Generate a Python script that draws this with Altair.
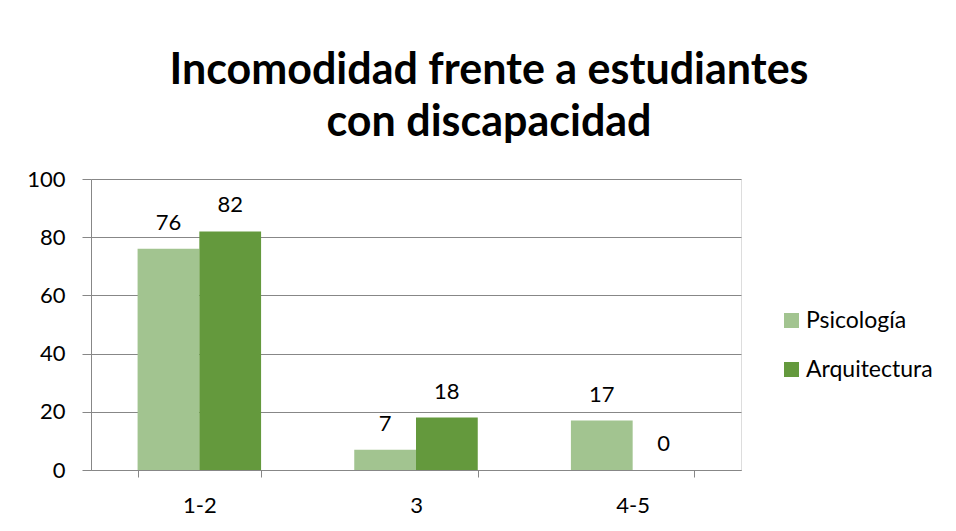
import altair as alt
import pandas as pd

categorias = ["1-2", "3", "4-5"]
series = ["Psicología", "Arquitectura"]
psicologia = [76, 7, 17]
arquitectura = [82, 18, 0]
colores = ["#A2C490", "#64993D"]
titulo = ["Incomodidad frente a estudiantes", "con discapacidad"]

rows = []
for i, c in enumerate(categorias):
    rows.append({"cat": c, "serie": series[0], "valor": psicologia[i]})
    rows.append({"cat": c, "serie": series[1], "valor": arquitectura[i]})
df = pd.DataFrame(rows)

FONT = "Lato"
GRAY = "#878787"

x = alt.X(
    "cat:N", sort=categorias, title=None,
    scale=alt.Scale(paddingInner=0.43, paddingOuter=0.215),
    axis=alt.Axis(labelAngle=0, tickBand="extent", tickSize=7, labelPadding=18,
                  labelFontSize=22, labelFont=FONT, labelColor="black",
                  domainColor=GRAY, tickColor=GRAY, grid=False),
)
xo = alt.XOffset("serie:N", sort=series, scale=alt.Scale(paddingInner=0, paddingOuter=0))
y = alt.Y(
    "valor:Q", title=None, scale=alt.Scale(domain=[0, 100]),
    axis=alt.Axis(values=[0, 20, 40, 60, 80, 100], grid=True, gridColor=GRAY,
                  tickSize=9, labelPadding=17, labelFontSize=22, labelFont=FONT,
                  labelColor="black", domainColor=GRAY, tickColor=GRAY),
)
color = alt.Color(
    "serie:N", sort=series, title=None,
    scale=alt.Scale(domain=series, range=colores),
    legend=alt.Legend(orient="none", legendX=689, legendY=130, symbolType="square",
                      symbolSize=225, symbolStrokeWidth=0, labelFontSize=23,
                      labelFont=FONT, labelColor="black", rowPadding=25,
                      labelOffset=3),
)

bars = alt.Chart(df).mark_bar().encode(x=x, xOffset=xo, y=y, color=color)
labels = alt.Chart(df).mark_text(
    baseline="alphabetic", dy=-19, fontSize=22, font=FONT, color="black"
).encode(x=x, xOffset=xo, y=y, text="valor:Q")

chart = (
    alt.layer(bars, labels)
    .properties(
        width=650, height=291,
        title=alt.TitleParams(titulo, fontSize=43, font=FONT, fontWeight="bold",
                              color="black", anchor="middle", frame="group",
                              dx=73, offset=23, lineHeight=52),
        autosize=alt.AutoSizeParams(type="none"),
        padding={"left": 83, "top": 171, "right": 207, "bottom": 50},
    )
    .configure_view(stroke=None)
    .configure(background="white")
)

chart.save("out.html", embed_options={"renderer": "svg", "actions": False})
